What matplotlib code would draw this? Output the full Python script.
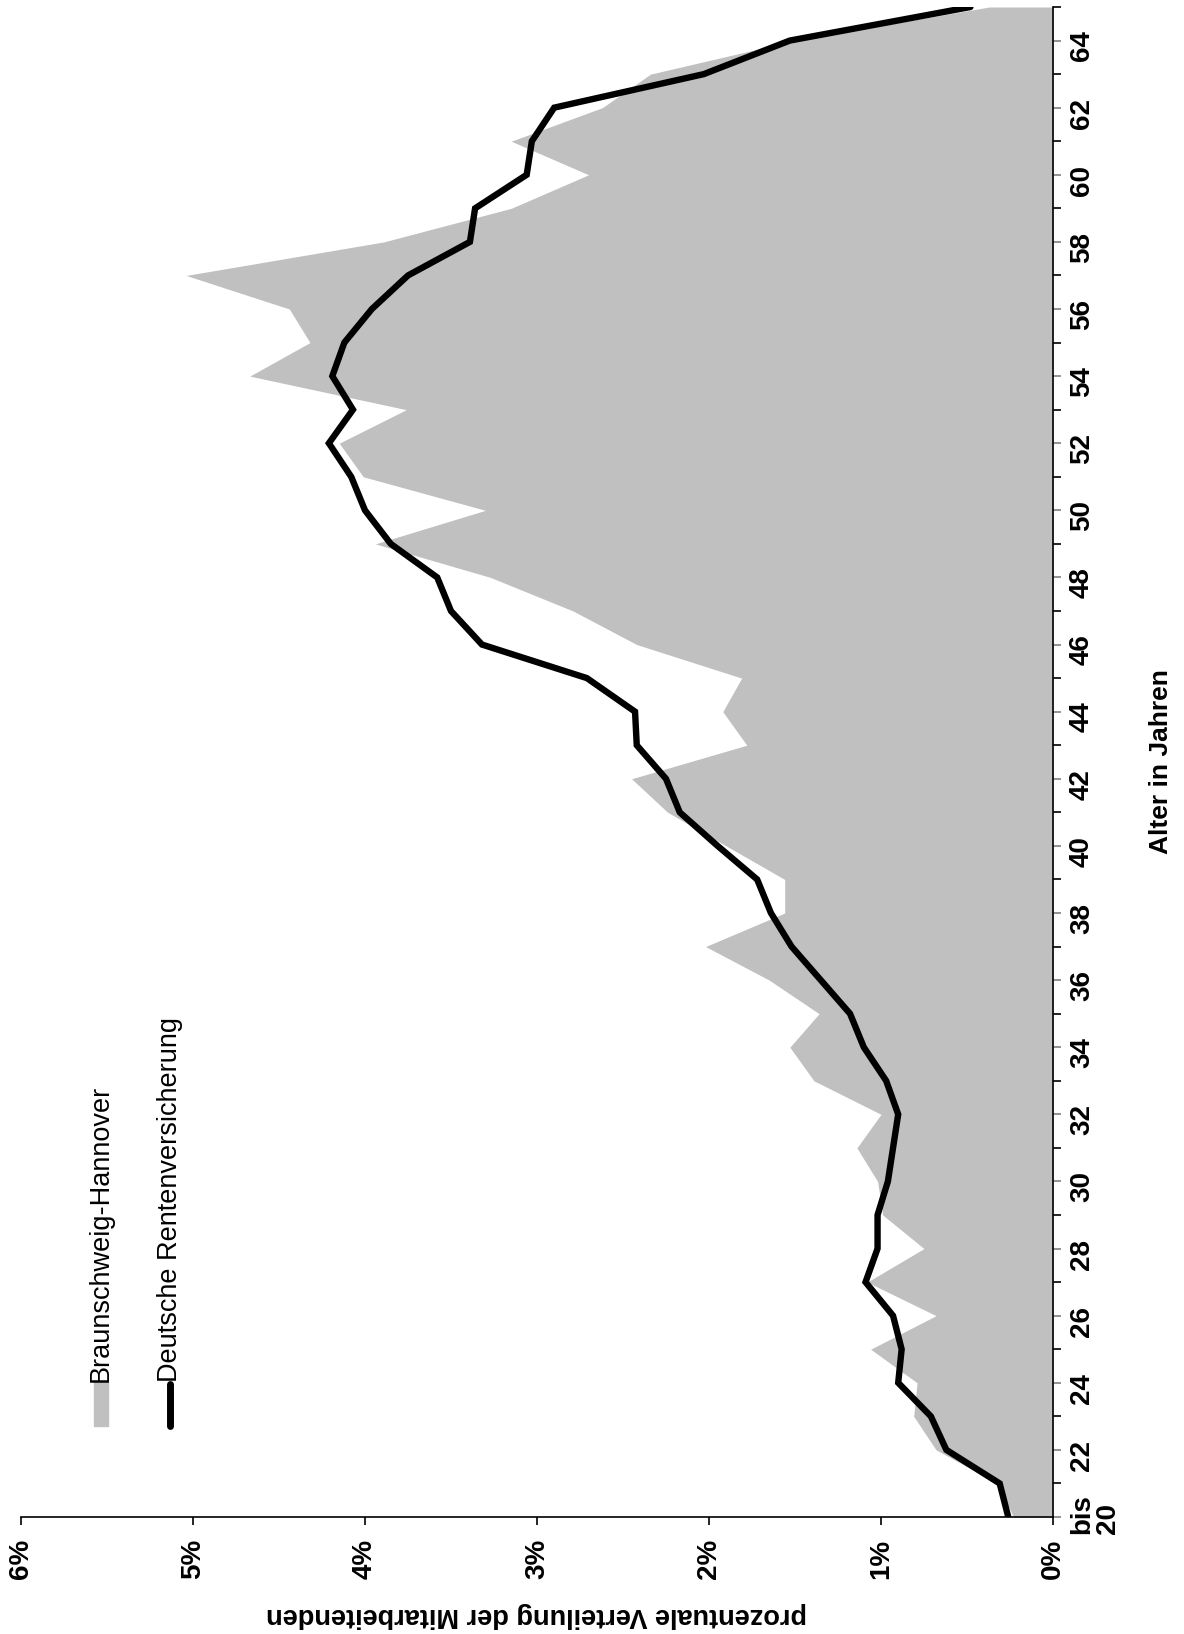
"""Altersverteilung der Mitarbeitenden (gedrehte Darstellung)."""

import matplotlib
matplotlib.use('Agg')
import matplotlib.pyplot as plt
from matplotlib.lines import Line2D
from matplotlib.patches import Rectangle
from matplotlib.ticker import FixedLocator

plt.rcParams['font.family'] = ['Liberation Sans', 'DejaVu Sans']

# Alter (Kategorien)
alter = list(range(20, 66))

# Braunschweig-Hannover, Anteil in %
bs_hannover = [0.23, 0.32, 0.68, 0.81, 0.79, 1.06, 0.68, 1.08, 0.75, 0.99,
               1.02, 1.14, 1.00, 1.39, 1.53, 1.36, 1.65, 2.02, 1.56, 1.56,
               1.90, 2.24, 2.45, 1.78, 1.92, 1.81, 2.42, 2.79, 3.27, 3.94,
               3.30, 4.01, 4.15, 3.76, 4.67, 4.32, 4.44, 5.04, 3.89, 3.15,
               2.70, 3.15, 2.62, 2.34, 1.50, 0.37]

# Deutsche Rentenversicherung, Anteil in %
drv = [0.26, 0.31, 0.62, 0.71, 0.90, 0.88, 0.93, 1.09, 1.02, 1.02,
       0.96, 0.93, 0.90, 0.97, 1.10, 1.18, 1.35, 1.52, 1.64, 1.72,
       1.95, 2.17, 2.25, 2.42, 2.43, 2.71, 3.32, 3.50, 3.58, 3.85,
       4.00, 4.08, 4.21, 4.07, 4.19, 4.12, 3.96, 3.75, 3.39, 3.36,
       3.06, 3.03, 2.90, 2.03, 1.53, 0.48]

prozent_ticks = [0, 1, 2, 3, 4, 5, 6]
prozent_labels = ['0%', '1%', '2%', '3%', '4%', '5%', '6%']
alter_ticks = list(range(20, 65, 2))
alter_labels = ['bis\n20'] + [str(a) for a in range(22, 65, 2)]

W, H = 1184, 1634
fig = plt.figure(figsize=(W / 100, H / 100), dpi=100)
ax = fig.add_axes([21 / W, 117 / H, 1032 / W, 1510 / H])

ax.fill_betweenx(alter, 0, bs_hannover, color='#c0c0c0', linewidth=0)
ax.plot(drv, alter, color='black', linewidth=4.6, solid_capstyle='round',
        solid_joinstyle='miter')

ax.set_xlim(6, 0)
ax.set_ylim(20, 65)

for s in ['left', 'top']:
    ax.spines[s].set_visible(False)
for s in ['bottom', 'right']:
    ax.spines[s].set_linewidth(1.2)

ax.set_xticks(prozent_ticks)
ax.set_xticklabels(prozent_labels, rotation=90, fontsize=20, fontweight='bold')
ax.tick_params(axis='x', length=5.5, width=1.2, pad=10)

ax.yaxis.tick_right()
ax.yaxis.set_label_position('right')
ax.set_yticks(alter_ticks)
ax.set_yticklabels(alter_labels, rotation=90, fontsize=20, fontweight='bold',
                   linespacing=1.0)
ax.yaxis.set_minor_locator(FixedLocator(list(range(21, 66, 2))))
ax.tick_params(axis='y', which='major', length=5.5, width=1.2, color='#808080', pad=6)
ax.tick_params(axis='y', which='minor', length=5.5, width=1.2, color='black')

ax.set_xlabel('prozentuale Verteilung der Mitarbeitenden', rotation=180,
              fontsize=19.5, fontweight='bold', labelpad=17)
ax.set_ylabel('Alter in Jahren', rotation=90, fontsize=19, fontweight='bold',
              labelpad=20)

# Legende (von Hand, gedreht)
fig.patches.append(Rectangle((94 / W, 1 - 1426 / H), 14 / W, 44 / H,
                             transform=fig.transFigure, color='#c0c0c0'))
fig.text(101 / W, 1 - 1382 / H, 'Braunschweig-Hannover', rotation=90,
         ha='center', va='bottom', fontsize=19.5)
fig.lines.append(Line2D([170 / W, 170 / W], [1 - 1426 / H, 1 - 1384 / H],
                        transform=fig.transFigure, color='black', linewidth=5,
                        solid_capstyle='round'))
fig.text(170 / W, 1 - 1382 / H, 'Deutsche Rentenversicherung', rotation=90,
         ha='center', va='bottom', fontsize=19.5)

plt.savefig('out.png', dpi=100)
plt.close()
